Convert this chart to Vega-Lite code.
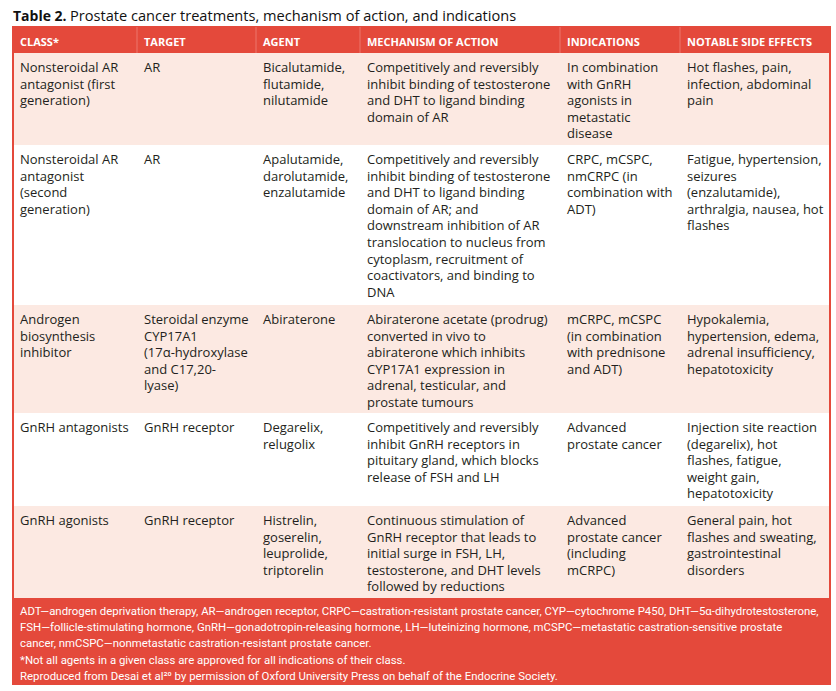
{
  "$schema": "https://vega.github.io/schema/vega-lite/v6.json",
  "width": 836,
  "height": 691,
  "padding": 0,
  "autosize": {"type": "none"},
  "background": "white",
  "config": {"view": {"stroke": null}, "axis": {"disable": true}},
  "datasets": {
    "fills": [
      {"top": 0, "bottom": 1, "kind": "red"},
      {"top": 1, "bottom": 2, "kind": "pink"},
      {"top": 3, "bottom": 4, "kind": "pink"},
      {"top": 5, "bottom": 6, "kind": "pink"},
      {"top": 6, "bottom": 7, "kind": "red"}
    ],
    "headers": [
      {"col": 0, "label": "CLASS*"},
      {"col": 1, "label": "TARGET"},
      {"col": 2, "label": "AGENT"},
      {"col": 3, "label": "MECHANISM OF ACTION"},
      {"col": 4, "label": "INDICATIONS"},
      {"col": 5, "label": "NOTABLE SIDE EFFECTS"}
    ],
    "cells": [
      {"row": 1, "col": 0, "lines": ["Nonsteroidal AR", "antagonist (first", "generation)"]},
      {"row": 1, "col": 1, "lines": ["AR"]},
      {"row": 1, "col": 2, "lines": ["Bicalutamide,", "flutamide,", "nilutamide"]},
      {"row": 1, "col": 3, "lines": ["Competitively and reversibly", "inhibit binding of testosterone", "and DHT to ligand binding", "domain of AR"]},
      {"row": 1, "col": 4, "lines": ["In combination", "with GnRH", "agonists in", "metastatic", "disease"]},
      {"row": 1, "col": 5, "lines": ["Hot flashes, pain,", "infection, abdominal", "pain"]},
      {"row": 2, "col": 0, "lines": ["Nonsteroidal AR", "antagonist", "(second", "generation)"]},
      {"row": 2, "col": 1, "lines": ["AR"]},
      {"row": 2, "col": 2, "lines": ["Apalutamide,", "darolutamide,", "enzalutamide"]},
      {"row": 2, "col": 3, "lines": ["Competitively and reversibly", "inhibit binding of testosterone", "and DHT to ligand binding", "domain of AR; and", "downstream inhibition of AR", "translocation to nucleus from", "cytoplasm, recruitment of", "coactivators, and binding to", "DNA"]},
      {"row": 2, "col": 4, "lines": ["CRPC, mCSPC,", "nmCRPC (in", "combination with", "ADT)"]},
      {"row": 2, "col": 5, "lines": ["Fatigue, hypertension,", "seizures", "(enzalutamide),", "arthralgia, nausea, hot", "flashes"]},
      {"row": 3, "col": 0, "lines": ["Androgen", "biosynthesis", "inhibitor"]},
      {"row": 3, "col": 1, "lines": ["Steroidal enzyme", "CYP17A1", "(17α-hydroxylase", "and C17,20-", "lyase)"]},
      {"row": 3, "col": 2, "lines": ["Abiraterone"]},
      {"row": 3, "col": 3, "lines": ["Abiraterone acetate (prodrug)", "converted in vivo to", "abiraterone which inhibits", "CYP17A1 expression in", "adrenal, testicular, and", "prostate tumours"]},
      {"row": 3, "col": 4, "lines": ["mCRPC, mCSPC", "(in combination", "with prednisone", "and ADT)"]},
      {"row": 3, "col": 5, "lines": ["Hypokalemia,", "hypertension, edema,", "adrenal insufficiency,", "hepatotoxicity"]},
      {"row": 4, "col": 0, "lines": ["GnRH antagonists"]},
      {"row": 4, "col": 1, "lines": ["GnRH receptor"]},
      {"row": 4, "col": 2, "lines": ["Degarelix,", "relugolix"]},
      {"row": 4, "col": 3, "lines": ["Competitively and reversibly", "inhibit GnRH receptors in", "pituitary gland, which blocks", "release of FSH and LH"]},
      {"row": 4, "col": 4, "lines": ["Advanced", "prostate cancer"]},
      {"row": 4, "col": 5, "lines": ["Injection site reaction", "(degarelix), hot", "flashes, fatigue,", "weight gain,", "hepatotoxicity"]},
      {"row": 5, "col": 0, "lines": ["GnRH agonists"]},
      {"row": 5, "col": 1, "lines": ["GnRH receptor"]},
      {"row": 5, "col": 2, "lines": ["Histrelin,", "goserelin,", "leuprolide,", "triptorelin"]},
      {"row": 5, "col": 3, "lines": ["Continuous stimulation of", "GnRH receptor that leads to", "initial surge in FSH, LH,", "testosterone, and DHT levels", "followed by reductions"]},
      {"row": 5, "col": 4, "lines": ["Advanced", "prostate cancer", "(including", "mCRPC)"]},
      {"row": 5, "col": 5, "lines": ["General pain, hot", "flashes and sweating,", "gastrointestinal", "disorders"]}
    ],
    "notes": [
      {"lines": [
        "ADT—androgen deprivation therapy, AR—androgen receptor, CRPC—castration-resistant prostate cancer, CYP—cytochrome P450, DHT—5α-dihydrotestosterone,",
        "FSH—follicle-stimulating hormone, GnRH—gonadotropin-releasing hormone, LH—luteinizing hormone, mCSPC—metastatic castration-sensitive prostate",
        "cancer, nmCSPC—nonmetastatic castration-resistant prostate cancer.",
        "*Not all agents in a given class are approved for all indications of their class.",
        "Reproduced from Desai et al²⁰ by permission of Oxford University Press on behalf of the Endocrine Society."
      ]}
    ],
    "title": [{"bold": "Table 2.", "rest": "Prostate cancer treatments, mechanism of action, and indications"}]
  },
  "layer": [
    {
      "data": {"name": "fills"},
      "mark": {"type": "rect"},
      "encoding": {
        "x": {"datum": 0, "type": "quantitative", "scale": {"domain": [0, 1, 2, 3, 4, 5, 6], "range": [13, 137, 256, 360, 560, 680, 830], "zero": false, "nice": false}},
        "x2": {"datum": 6},
        "y": {"field": "top", "type": "quantitative", "scale": {"domain": [0, 1, 2, 3, 4, 5, 6, 7], "range": [27, 53, 145, 305, 413, 506, 598, 684], "zero": false, "nice": false}},
        "y2": {"field": "bottom"},
        "color": {"field": "kind", "type": "nominal", "legend": null, "scale": {"domain": ["red", "pink"], "range": ["#e4493b", "#fce9e2"]}}
      }
    },
    {
      "data": {"name": "title"},
      "mark": {"type": "rect", "fill": null, "stroke": "#e4493b", "strokeWidth": 2},
      "encoding": {
        "x": {"datum": 0, "type": "quantitative"},
        "x2": {"datum": 6},
        "y": {"datum": 0, "type": "quantitative"},
        "y2": {"datum": 7}
      }
    },
    {
      "data": {"name": "headers"},
      "transform": [{"filter": "datum.col > 0"}],
      "mark": {"type": "rule", "stroke": "#ec776c", "strokeWidth": 1},
      "encoding": {
        "x": {"field": "col", "type": "quantitative"},
        "y": {"datum": 0, "type": "quantitative"},
        "y2": {"datum": 1}
      }
    },
    {
      "data": {"name": "headers"},
      "mark": {"type": "text", "align": "left", "baseline": "alphabetic", "dx": 7, "dy": 19, "font": "Open Sans", "fontSize": 11, "fontWeight": "bold", "color": "white"},
      "encoding": {
        "x": {"field": "col", "type": "quantitative"},
        "y": {"datum": 0, "type": "quantitative"},
        "text": {"field": "label", "type": "nominal"}
      }
    },
    {
      "data": {"name": "cells"},
      "mark": {"type": "text", "align": "left", "baseline": "alphabetic", "dx": 7, "dy": 19, "font": "Open Sans", "fontSize": 13, "lineHeight": 16.6, "color": "#231f20"},
      "encoding": {
        "x": {"field": "col", "type": "quantitative"},
        "y": {"field": "row", "type": "quantitative"},
        "text": {"field": "lines", "type": "nominal"}
      }
    },
    {
      "data": {"name": "notes"},
      "mark": {"type": "text", "align": "left", "baseline": "alphabetic", "dx": 7, "dy": 17, "font": "Roboto", "fontSize": 11.4, "lineHeight": 16.2, "color": "white"},
      "encoding": {
        "x": {"datum": 0, "type": "quantitative"},
        "y": {"datum": 6, "type": "quantitative"},
        "text": {"field": "lines", "type": "nominal"}
      }
    },
    {
      "data": {"name": "title"},
      "mark": {"type": "text", "align": "left", "baseline": "alphabetic", "dx": 0, "dy": -6, "font": "Open Sans", "fontSize": 14, "fontWeight": "bold", "color": "#111111"},
      "encoding": {
        "x": {"datum": 0, "type": "quantitative"},
        "y": {"datum": 0, "type": "quantitative"},
        "text": {"field": "bold", "type": "nominal"}
      }
    },
    {
      "data": {"name": "title"},
      "mark": {"type": "text", "align": "left", "baseline": "alphabetic", "dx": 57, "dy": -6, "font": "Open Sans", "fontSize": 14.6, "color": "#111111"},
      "encoding": {
        "x": {"datum": 0, "type": "quantitative"},
        "y": {"datum": 0, "type": "quantitative"},
        "text": {"field": "rest", "type": "nominal"}
      }
    }
  ]
}
